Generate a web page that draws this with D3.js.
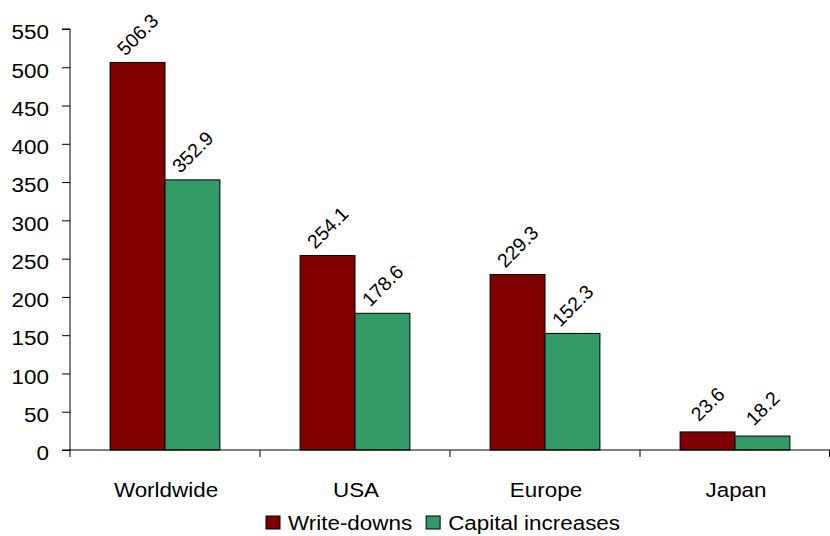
<!DOCTYPE html>
<html>
<head>
<meta charset="utf-8">
<script src="https://cdn.jsdelivr.net/npm/d3@7"></script>
<style>
  html, body { margin: 0; padding: 0; background: #fff; }
  svg { display: block; font-family: Arial, "Liberation Sans", sans-serif; }
</style>
</head>
<body>
<svg id="chart" width="830" height="536"></svg>
<script>
const categories = ["Worldwide", "USA", "Europe", "Japan"];
const writeDowns = [506.3, 254.1, 229.3, 23.6];
const capitalIncreases = [352.9, 178.6, 152.3, 18.2];
const seriesNames = ["Write-downs", "Capital increases"];
const seriesColors = ["#800000", "#339966"];
const yTicks = [0, 50, 100, 150, 200, 250, 300, 350, 400, 450, 500, 550];

const svg = d3.select("#chart");
const plotLeft = 70, plotRight = 830, plotTop = 29, plotBottom = 450;
const fontSize = 19.5;
const sx = 1.15;          // glyphs are drawn slightly wide
const labelFont = 19.5;

const x = d3.scaleBand().domain(categories).range([plotLeft, plotRight]).paddingInner(0).paddingOuter(0);
const inner = d3.scaleBand().domain([0, 1]).range([0, x.bandwidth()]).paddingInner(0).paddingOuter(0.73);
const y = d3.scaleLinear().domain([0, 550]).range([plotBottom, plotTop]);

const series = [writeDowns, capitalIncreases];

// Bars
series.forEach((vals, si) => {
  svg.append("g").selectAll("rect")
    .data(vals)
    .join("rect")
    .attr("x", (d, i) => x(categories[i]) + inner(si))
    .attr("y", d => y(d))
    .attr("width", inner.bandwidth())
    .attr("height", d => y(0) - y(d))
    .attr("fill", seriesColors[si])
    .attr("stroke", "#000")
    .attr("stroke-width", 1);
});

// Value labels, rotated 45 degrees above each bar
series.forEach((vals, si) => {
  svg.append("g").selectAll("text")
    .data(vals)
    .join("text")
    .attr("transform", (d, i) => {
      const cx = x(categories[i]) + inner(si) + inner.bandwidth() / 2;
      const cy = y(d) - 28;
      return `translate(${cx},${cy}) rotate(-45)`;
    })
    .attr("text-anchor", "middle")
    .attr("dominant-baseline", "central")
    .attr("font-size", labelFont)
    .attr("fill", "#000")
    .text(d => d.toFixed(1));
});

// Y axis
const yAxis = d3.axisLeft(y).tickValues(yTicks).tickSize(8).tickPadding(12);
const gy = svg.append("g").attr("transform", `translate(${plotLeft},0)`).call(yAxis);
gy.select(".domain").attr("d", `M-8,${plotTop}H0V${plotBottom}H-8`).attr("stroke", "#000");
gy.selectAll(".tick line").attr("stroke", "#000");
gy.selectAll(".tick text")
  .attr("font-size", fontSize)
  .attr("font-family", "Arial, 'Liberation Sans', sans-serif")
  .attr("fill", "#000")
  .attr("x", 0)
  .attr("dy", "0.5em")
  .attr("transform", `translate(-21,0) scale(${sx},1)`);

// X axis line and category separators
const gx = svg.append("g");
gx.append("line").attr("x1", plotLeft).attr("x2", plotRight).attr("y1", plotBottom).attr("y2", plotBottom).attr("stroke", "#000");
const boundaries = categories.map(c => x(c)).concat([plotRight - 0.5]);
gx.selectAll("line.sep").data(boundaries).join("line")
  .attr("class", "sep")
  .attr("x1", d => d).attr("x2", d => d)
  .attr("y1", plotBottom).attr("y2", plotBottom + 7)
  .attr("stroke", "#000");
gx.selectAll("text").data(categories).join("text")
  .attr("transform", d => `translate(${x(d) + x.bandwidth() / 2 + 1},497) scale(${sx},1)`)
  .attr("text-anchor", "middle")
  .attr("font-size", fontSize)
  .attr("fill", "#000")
  .text(d => d);

// Legend
const legend = svg.append("g");
const items = legend.selectAll("g").data(seriesNames).join("g");
items.append("rect").attr("width", 14).attr("height", 13).attr("y", -14)
  .attr("fill", (d, i) => seriesColors[i]).attr("stroke", "#000");
items.append("text")
  .attr("transform", `translate(22,0) scale(${sx},1)`)
  .attr("font-size", fontSize).attr("fill", "#000").text(d => d);
const widths = [];
items.each(function () {
  const t = d3.select(this).select("text").node();
  widths.push(22 + t.getComputedTextLength() * sx);
});
const gap = 14;
let cur = 266;
items.attr("transform", (d, i) => {
  const t = `translate(${cur},530)`;
  cur += widths[i] + gap;
  return t;
});
</script>
</body>
</html>
